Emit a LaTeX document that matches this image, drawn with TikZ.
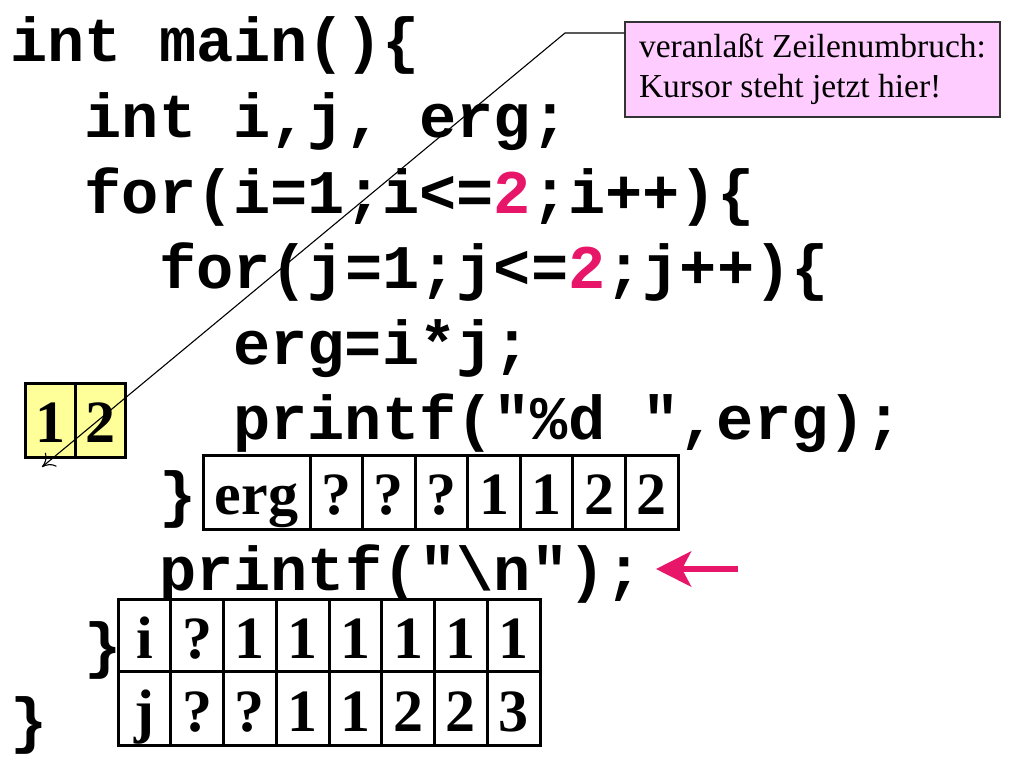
\documentclass[tikz,border=0pt]{standalone}
\usepackage{fontspec}
\setmainfont{Liberation Serif}
\newfontfamily\codefont{Liberation Mono}
\usetikzlibrary{arrows.meta}
\definecolor{hl}{RGB}{232,22,104}
\definecolor{yel}{RGB}{255,255,153}
\definecolor{pinkbox}{RGB}{255,204,255}
\tikzset{
  code/.style={anchor=base west, inner sep=0pt, font=\codefont\bfseries\fontsize{62}{62}\selectfont},
  cellbox/.style={draw=black, line width=3pt, minimum height=74pt, inner xsep=0pt, inner ysep=0pt,
    text height=45pt, text depth=0pt, font=\bfseries\fontsize{60}{60}\selectfont, fill=white},
  note/.style={draw=black!80, line width=1.3pt, fill=pinkbox, align=left, inner xsep=8pt,
    font=\fontsize{33.5}{40}\selectfont},
  thinarrow/.style={line width=1.1pt, -{To[length=12pt,width=18pt]}},
  redarrow/.style={draw=hl, line width=6pt, -{Stealth[length=35pt,width=35pt,inset=9pt]}}
}
\begin{document}
\begin{tikzpicture}[x=1pt,y=-1pt]
\useasboundingbox (0,0) rectangle (1024,768);
% code
\node[code] (c1) at (10,62) {int main()\{};
\node[code] (c2) at (84.4,137.5) {int i,j, erg;};
\node[code] (c3) at (84.4,213) {for(i=1;i<=\textcolor{hl}{2};i++)\{};
\node[code] (c4) at (158.8,288.5) {for(j=1;j<=\textcolor{hl}{2};j++)\{};
\node[code] (c5) at (233,364) {erg=i*j;};
\node[code] (c6) at (233,439.5) {printf("\%d ",erg);};
\node[code] (c7) at (158.8,515) {\}};
\node[code] (c8) at (158.8,590.5) {printf("\textbackslash n");};
\node[code] (c9) at (84.4,666) {\}};
\node[code] (c10) at (10,741.5) {\}};
% erg row
\node[cellbox, minimum width=107pt] (erg) at (256.5,492) {erg};
\foreach \t [count=\k] in {?,?,?,1,1,2,2}
  \node[cellbox, minimum width=52.57pt] (e\k) at ({310+52.57*(\k-0.5)},492) {\t};
% i/j table
\foreach \t [count=\k] in {i,?,1,1,1,1,1,1}
  \node[cellbox, minimum width=52.75pt] (i\k) at ({118+52.75*(\k-0.5)},636) {\t};
\foreach \t [count=\k] in {j,?,?,1,1,2,2,3}
  \node[cellbox, minimum width=52.75pt] (j\k) at ({118+52.75*(\k-0.5)},708.5) {\t};
% output box
\node[cellbox, fill=yel, minimum width=50pt, minimum height=74pt] (o1) at (50,420) {1};
\node[cellbox, fill=yel, minimum width=50pt, minimum height=74pt] (o2) at (100,420) {2};
% note
\node[note, minimum width=375pt, minimum height=95pt] (n) at (812.5,69.5)
  {veranla\ss t Zeilenumbruch:\\Kursor steht jetzt hier!};
\coordinate (bend) at (565,33);
\coordinate (cur) at (42,467);
\draw[thinarrow] (n.west |- bend) -- (bend) -- (cur);
% red arrow
\coordinate (rs) at (738,569);
\coordinate (rt) at (656,569);
\draw[redarrow] (rs) -- (rt);
\end{tikzpicture}
\end{document}
